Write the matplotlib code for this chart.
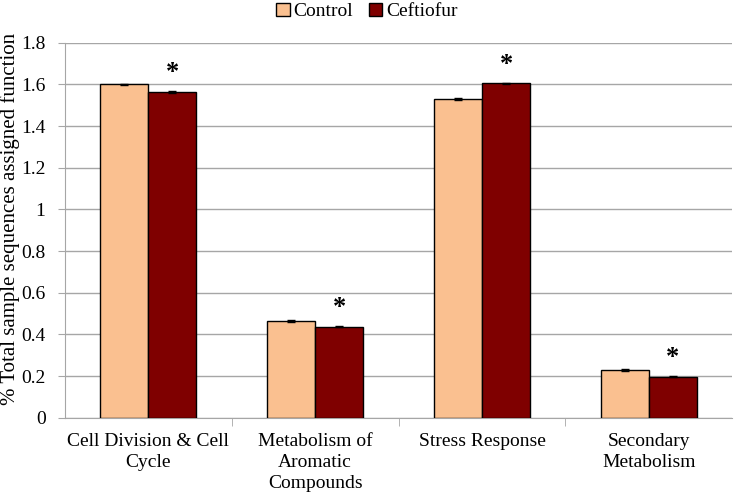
import numpy as np
import matplotlib
matplotlib.use("Agg")
import matplotlib.pyplot as plt

plt.rcParams['font.family'] = ['Liberation Serif', 'DejaVu Serif']

categories = ["Cell Division & Cell\nCycle", "Metabolism of\nAromatic\nCompounds",
              "Stress Response", "Secondary\nMetabolism"]
control = [1.600, 0.465, 1.530, 0.228]
ceftiofur = [1.565, 0.438, 1.605, 0.198]
control_err = [0.004, 0.004, 0.004, 0.004]
ceftiofur_err = [0.004, 0.004, 0.004, 0.003]
significant = [True, True, True, True]
yticks = [0, 0.2, 0.4, 0.6, 0.8, 1.0, 1.2, 1.4, 1.6, 1.8]
ytick_labels = ['0', '0.2', '0.4', '0.6', '0.8', '1', '1.2', '1.4', '1.6', '1.8']

fig = plt.figure(figsize=(7.34, 4.98), dpi=100)
ax = fig.add_axes([0.0886, 0.161, 0.909, 0.753])

x = np.arange(len(categories))
w = 0.288
ax.bar(x - w / 2, control, w, yerr=control_err, color='#FAC090', edgecolor='black',
       linewidth=1, label='Control', capsize=3, error_kw=dict(elinewidth=1, capthick=1), zorder=3)
ax.bar(x + w / 2, ceftiofur, w, yerr=ceftiofur_err, color='#7F0000', edgecolor='black',
       linewidth=1, label='Ceftiofur', capsize=3, error_kw=dict(elinewidth=1, capthick=1), zorder=3)

for i, s in enumerate(significant):
    if s:
        ax.annotate('*', (x[i] + w / 2, ceftiofur[i] + ceftiofur_err[i]), xytext=(0, 5),
                    textcoords='offset points', ha='center', va='bottom', fontsize=19,
                    fontweight='bold')

ax.set_ylim(0, 1.8)
ax.set_xlim(-0.5, len(categories) - 0.5)
ax.set_yticks(yticks)
ax.set_yticklabels(ytick_labels)
ax.yaxis.grid(True, color='#A6A6A6', linewidth=1, zorder=0)
ax.set_axisbelow(True)

ax.set_xticks(x)
ax.set_xticklabels(categories, fontsize=14, va='top', linespacing=1.3)
ax.tick_params(axis='x', length=0, pad=11)
ax.set_xticks(np.arange(0.5, len(categories) - 0.5, 1), minor=True)
ax.tick_params(axis='x', which='minor', length=6, color='#A6A6A6', direction='out')
ax.tick_params(axis='y', labelsize=14, length=5, color='#A6A6A6', direction='out', pad=9)

for side in ['top', 'right']:
    ax.spines[side].set_visible(False)
ax.spines['left'].set_color('#A6A6A6')
ax.spines['bottom'].set_color('#A6A6A6')

ax.set_ylabel('% Total sample sequences assigned function', fontsize=15)
ax.yaxis.set_label_coords(-0.068, 0.53)

fig.legend(loc='upper center', bbox_to_anchor=(0.5, 1.01), ncol=2, frameon=False,
           fontsize=14, handlelength=0.7, handleheight=0.7, handletextpad=0.2,
           columnspacing=0.8, borderaxespad=0.0)

fig.savefig('out.png', dpi=100)
